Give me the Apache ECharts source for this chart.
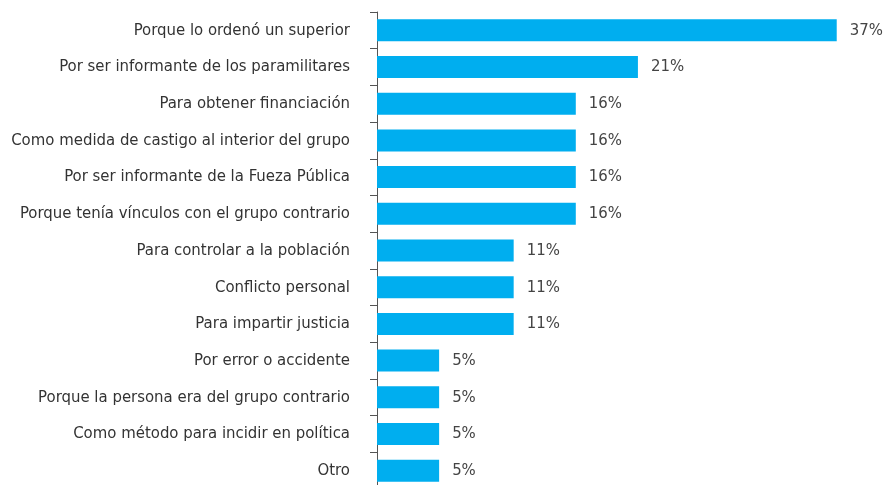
<!DOCTYPE html>
<html><head><meta charset="utf-8">
<script src="https://cdn.jsdelivr.net/npm/echarts@6/dist/echarts.min.js"></script>
<style>html,body{margin:0;padding:0;background:#fff}#c{width:889px;height:485px}</style>
</head><body><div id="c"></div>
<script>
var categories = [
  "Porque lo ordenó un superior",
  "Por ser informante de los paramilitares",
  "Para obtener financiación",
  "Como medida de castigo al interior del grupo",
  "Por ser informante de la Fueza Pública",
  "Porque tenía vínculos con el grupo contrario",
  "Para controlar a la población",
  "Conflicto personal",
  "Para impartir justicia",
  "Por error o accidente",
  "Porque la persona era del grupo contrario",
  "Como método para incidir en política",
  "Otro"
];
var values = [37, 21, 16, 16, 16, 16, 11, 11, 11, 5, 5, 5, 5];
var FONT = '"DejaVu Sans Condensed", "Roboto", sans-serif';
var chart = echarts.init(document.getElementById('c'));
chart.setOption({
  animation: false,
  grid: {left: 377, width: 497, top: 12, height: 477, containLabel: false, outerBoundsMode: 'none'},
  xAxis: {type: 'value', min: 0, max: 40, show: false},
  yAxis: {
    type: 'category', data: categories, inverse: true,
    axisLine: {show: true, lineStyle: {color: '#555', width: 1}},
    axisTick: {show: true, length: 7, lineStyle: {color: '#555'}},
    axisLabel: {color: '#333', fontSize: 16.6, fontFamily: FONT, margin: 27},
    splitLine: {show: false}
  },
  series: [{
    type: 'bar', data: values, barWidth: 22,
    itemStyle: {color: '#00AEEF'},
    label: {show: true, position: 'right', distance: 13, formatter: '{c}%', color: '#444', fontSize: 16.6, fontFamily: FONT}
  }]
});
</script></body></html>
